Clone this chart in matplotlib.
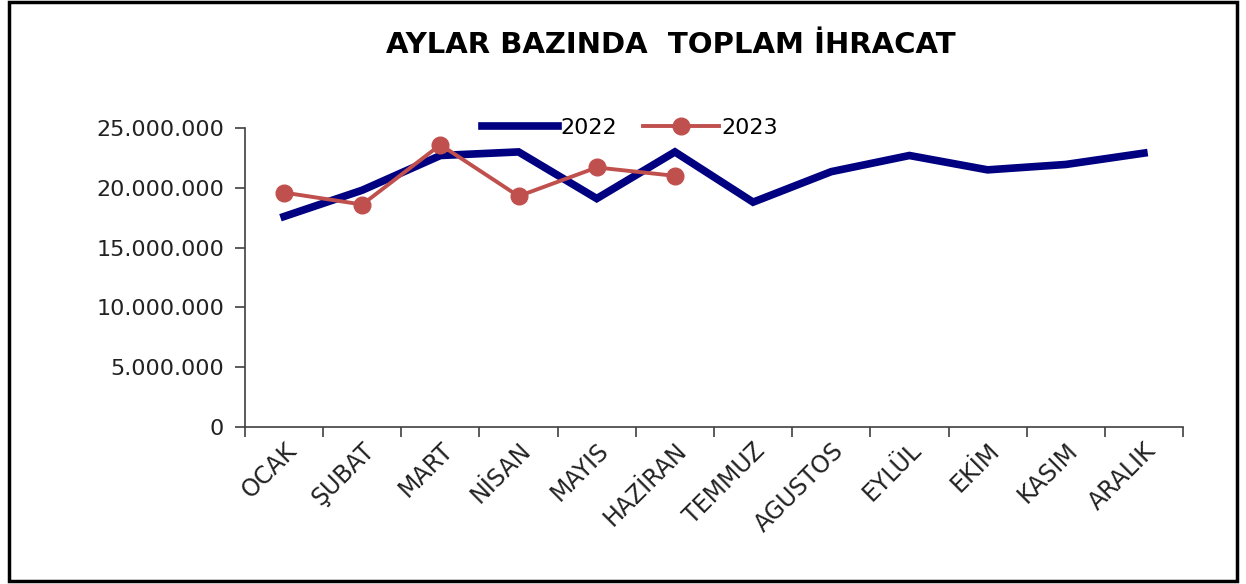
import matplotlib.pyplot as plt
import matplotlib.ticker as mticker
from matplotlib.patches import Rectangle

months = ["OCAK", "ŞUBAT", "MART", "NİSAN", "MAYIS", "HAZİRAN",
          "TEMMUZ", "AGUSTOS", "EYLÜL", "EKİM", "KASIM", "ARALIK"]
export_2022 = [17.6e6, 19.8e6, 22.7e6, 23.0e6, 19.1e6, 23.0e6,
               18.8e6, 21.35e6, 22.7e6, 21.5e6, 21.95e6, 22.9e6]
export_2023 = [19.6e6, 18.6e6, 23.6e6, 19.3e6, 21.7e6, 21.0e6]

plt.rcParams['font.family'] = ['DejaVu Sans']

fig = plt.figure(figsize=(12.46, 5.84), dpi=100)
ax = fig.add_axes([245 / 1246, 157 / 584, 938 / 1246, 299 / 584])

x22 = list(range(len(export_2022)))
x23 = list(range(len(export_2023)))
ax.plot(x22, export_2022, color='#000080', lw=5.5, solid_joinstyle='miter', label='2022')
ax.plot(x23, export_2023, color='#C0504D', lw=2.8, marker='o', markersize=12, label='2023')

ax.set_xlim(-0.5, len(months) - 0.5)
ax.set_ylim(0, 25e6)
ax.set_yticks([0, 5e6, 10e6, 15e6, 20e6, 25e6])
ax.yaxis.set_major_formatter(mticker.FuncFormatter(lambda v, p: f"{int(v):,}".replace(",", ".")))

# category boundaries carry the ticks, labels sit at the centres
ax.set_xticks([i + 0.5 for i in range(-1, len(months))])
ax.set_xticklabels([])
ax.set_xticks(x22, minor=True)
ax.set_xticklabels(months, minor=True, rotation=45, ha='right', va='top',
                   rotation_mode='anchor', fontsize=17, color='#222222')
ax.tick_params(axis='x', which='minor', length=0, pad=8)
ax.tick_params(axis='x', which='major', length=7, width=1.2, color='#404040')
ax.tick_params(axis='y', length=7, width=1.2, color='#404040', labelsize=16,
               labelcolor='#222222', pad=8)

for s in ['top', 'right']:
    ax.spines[s].set_visible(False)
for s in ['left', 'bottom']:
    ax.spines[s].set_color('#404040')
    ax.spines[s].set_linewidth(1.2)

ax.legend(loc='center', bbox_to_anchor=(630 / 1246, 1 - 128 / 584),
          bbox_transform=fig.transFigure, ncol=2, frameon=False,
          fontsize=16, handlelength=3.4, columnspacing=1.2, handletextpad=0.1)

fig.text(671 / 1246, 1 - 45 / 584, "AYLAR BAZINDA  TOPLAM İHRACAT",
         ha='center', va='center', fontsize=21, fontweight='bold')

fig.patches.append(Rectangle((9 / 1246, 3 / 584), 1228 / 1246, 579 / 584,
                             transform=fig.transFigure, fill=False,
                             edgecolor='black', lw=2.5))

fig.savefig("out.png", dpi=100)
